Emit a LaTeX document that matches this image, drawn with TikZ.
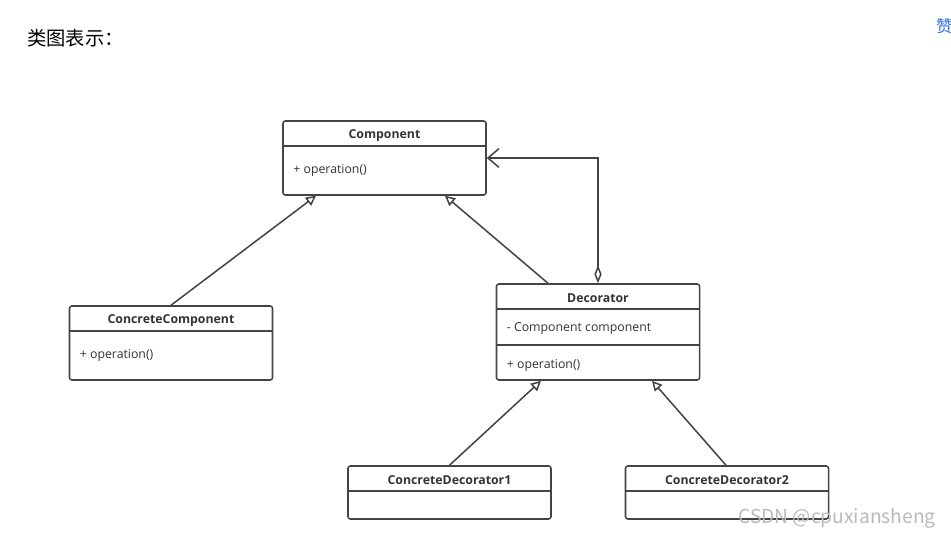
\documentclass[tikz,border=0pt]{standalone}
\usepackage{fontspec}
\setmainfont{Open Sans}
\newfontfamily\cjkfont{Noto Sans CJK SC}
\usetikzlibrary{arrows.meta,calc}
\definecolor{umlgray}{HTML}{444444}
\definecolor{umltext}{HTML}{333333}
\definecolor{csdnblue}{HTML}{2F6FE8}

\begin{document}
\begin{tikzpicture}[x=0.03cm,y=-0.03cm,umlbox/.style={draw=umlgray,line width=1.3pt,rounded corners=2pt,minimum width=6.09cm,inner sep=0pt},cname/.style={font=\bfseries\fontsize{10.5}{12}\selectfont,text=umltext},member/.style={anchor=west,font=\fontsize{10.5}{12}\selectfont,text=umltext},divider/.style={draw=umlgray,line width=1.3pt},inherit/.style={draw=umlgray,line width=1.3pt,-{Triangle[open,length=0.3cm,width=0.3cm]}},aggr/.style={draw=umlgray,line width=1.3pt,{Diamond[open,length=0.54cm,width=0.22cm]}-{Straight Barb[length=0.33cm,width=0.56cm]}}]
\def\hd{26};
\def\hn{15};
\def\mx{7};
\useasboundingbox (0,0) rectangle (951,536);

\node[anchor=west,inner sep=0pt,text=black,font=\cjkfont\fontsize{16.5}{18}\selectfont] (title) at (27,38) {类图表示：};
\node[anchor=west,inner sep=0pt,text=csdnblue,font=\cjkfont\fontsize{14}{16}\selectfont] (zan) at (936,26) {赞};

\node[umlbox,minimum height=2.22cm] (comp) at (384.5,158) {};
\node[cname] (compN) at ($(comp.north)+(0,\hn)$) {Component};
\draw[divider] ($(comp.north west)+(0,\hd)$) -- ($(comp.north east)+(0,\hd)$);
\node[member] (compOp) at ($(comp.north west)+(\mx,50)$) {+ operation()};

\node[umlbox,minimum height=2.22cm] (cc) at (171,343) {};
\node[cname] (ccN) at ($(cc.north)+(0,\hn)$) {ConcreteComponent};
\draw[divider] ($(cc.north west)+(0,\hd)$) -- ($(cc.north east)+(0,\hd)$);
\node[member] (ccOp) at ($(cc.north west)+(\mx,50)$) {+ operation()};

\node[umlbox,minimum height=2.88cm] (dec) at (598,332) {};
\node[cname] (decN) at ($(dec.north)+(0,\hn)$) {Decorator};
\draw[divider] ($(dec.north west)+(0,\hd)$) -- ($(dec.north east)+(0,\hd)$);
\node[member] (decAt) at ($(dec.north west)+(\mx,45)$) {- Component component};
\draw[divider] ($(dec.north west)+(0,62)$) -- ($(dec.north east)+(0,62)$);
\node[member] (decOp) at ($(dec.north west)+(\mx,82)$) {+ operation()};

\node[umlbox,minimum height=1.59cm] (cd1) at (449.5,492.5) {};
\node[cname] (cd1N) at ($(cd1.north)+(0,\hn)$) {ConcreteDecorator1};
\draw[divider] ($(cd1.north west)+(0,\hd)$) -- ($(cd1.north east)+(0,\hd)$);

\node[umlbox,minimum height=1.59cm] (cd2) at (727,492.5) {};
\node[cname] (cd2N) at ($(cd2.north)+(0,\hn)$) {ConcreteDecorator2};
\draw[divider] ($(cd2.north west)+(0,\hd)$) -- ($(cd2.north east)+(0,\hd)$);

\draw[inherit] (cc.north) -- ($(comp.south)+(-68.5,0)$);
\draw[inherit] ($(dec.north)+(-50,0)$) -- ($(comp.south)+(60.5,0)$);
\draw[aggr] (dec.north) -- (dec.north |- comp.east) -- (comp.east);
\draw[inherit] (cd1.north) -- ($(dec.south)+(-57,0)$);
\draw[inherit] ($(cd2.north)+(-1,0)$) -- ($(dec.south)+(54,0)$);

\node[anchor=base west,inner sep=0pt,text=gray!55,font=\cjkfont\fontsize{16.4}{18}\selectfont] (wm) at (738,523) {CSDN @cpuxiansheng};
\end{tikzpicture}
\end{document}
